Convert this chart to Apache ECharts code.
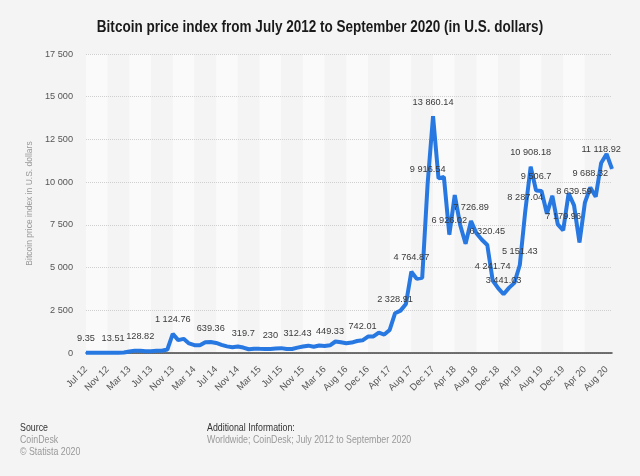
<!DOCTYPE html>
<html>
<head>
<meta charset="utf-8">
<script src="https://cdn.jsdelivr.net/npm/echarts@6/dist/echarts.min.js"></script>
<style>
html,body{margin:0;padding:0;background:#f4f4f4;}
#chart{width:640px;height:476px;}
</style>
</head>
<body>
<div id="chart"></div>
<script>
// Months (one month of 2016 is absent in the source data)
const categories = [
  'Jul 12','Aug 12','Sep 12','Oct 12','Nov 12','Dec 12',
  'Jan 13','Feb 13','Mar 13','Apr 13','May 13','Jun 13','Jul 13','Aug 13','Sep 13','Oct 13','Nov 13','Dec 13',
  'Jan 14','Feb 14','Mar 14','Apr 14','May 14','Jun 14','Jul 14','Aug 14','Sep 14','Oct 14','Nov 14','Dec 14',
  'Jan 15','Feb 15','Mar 15','Apr 15','May 15','Jun 15','Jul 15','Aug 15','Sep 15','Oct 15','Nov 15','Dec 15',
  'Jan 16','Feb 16','Mar 16','Apr 16','Jun 16','Jul 16','Aug 16','Sep 16','Oct 16','Nov 16','Dec 16',
  'Jan 17','Feb 17','Mar 17','Apr 17','May 17','Jun 17','Jul 17','Aug 17','Sep 17','Oct 17','Nov 17','Dec 17',
  'Jan 18','Feb 18','Mar 18','Apr 18','May 18','Jun 18','Jul 18','Aug 18','Sep 18','Oct 18','Nov 18','Dec 18',
  'Jan 19','Feb 19','Mar 19','Apr 19','May 19','Jun 19','Jul 19','Aug 19','Sep 19','Oct 19','Nov 19','Dec 19',
  'Jan 20','Feb 20','Mar 20','Apr 20','May 20','Jun 20','Jul 20','Aug 20','Sep 20'
];
const prices = [
  9.35, 10.2, 12.4, 11.2, 12.6, 13.51,
  20.4, 33.4, 93, 139, 128.82, 97, 106, 135, 133, 204, 1124.76, 754,
  829, 560, 458, 448, 628, 639.36, 587, 478, 388, 338, 378, 319.7,
  218, 254, 244, 236, 230, 263, 285, 230, 236, 312.43, 377, 430,
  369, 437, 416, 449.33, 673, 624, 575, 609, 700, 742.01, 963,
  968, 1190, 1080, 1347, 2328.91, 2480, 2875, 4764.87, 4338, 4400, 9916.54, 13860.14,
  10221, 10300, 6926.02, 9240, 7494, 6391, 7726.89, 7011, 6626, 6320.45, 4241.74, 3800,
  3441.03, 3813, 4105, 5151.43, 8287.04, 10908.18, 9506.7, 9480, 8150, 9199, 7530, 7179.96,
  9350, 8639.59, 6470, 8800, 9688.32, 9150, 11118.92, 11650, 10780
];
// indices of points that carry a value label
const labeledPoints = [0, 5, 10, 16, 23, 29, 34, 39, 45, 51, 57, 60, 63, 64, 67, 71, 74, 75, 77, 80, 81, 82, 83, 88, 90, 93, 95];
const yTicks = { min: 0, max: 17500, interval: 2500 };

const titleText = 'Bitcoin price index from July 2012 to September 2020 (in U.S. dollars)';
const yAxisName = 'Bitcoin price index in U.S. dollars';
const footerLeft = ['Source', 'CoinDesk', '\u00a9 Statista 2020'];
const footerRight = ['Additional Information:', 'Worldwide; CoinDesk; July 2012 to September 2020'];

function fmt(v) {
  const s = String(v);
  const parts = s.split('.');
  return parts[0].replace(/\B(?=(\d{3})+(?!\d))/g, ' ') + (parts[1] ? '.' + parts[1] : '');
}

const labelOffsets = { 0: [5, 0], 95: [-9, 0] };

const seriesData = prices.map((v, i) => {
  if (labeledPoints.indexOf(i) >= 0) {
    return { value: v, label: { show: true, offset: labelOffsets[i] || [1, 0] } };
  }
  return v;
});

const FONT = '"Liberation Sans", Arial, Helvetica, sans-serif';

function footerText(x, y, text, fill) {
  return {
    type: 'text', x: x, y: y, scaleX: 0.84, scaleY: 1,
    style: { text: text, fontSize: 10.5, fill: fill, fontFamily: FONT, textAlign: 'left', textVerticalAlign: 'top' }
  };
}

const chart = echarts.init(document.getElementById('chart'), null, { renderer: 'canvas' });
chart.setOption({
  animation: false,
  backgroundColor: '#f4f4f4',
  textStyle: { fontFamily: FONT },
  grid: { left: 86, right: 28, top: 54, bottom: 123, containLabel: false },
  xAxis: [{
    type: 'category',
    data: categories,
    boundaryGap: false,
    z: 0,
    axisLine: { show: false },
    axisTick: { show: false },
    axisLabel: { show: false },
    splitLine: { show: false },
    splitArea: { show: true, interval: 3, areaStyle: { color: ['#fafafa', '#f4f4f4'] } }
  }, {
    type: 'category',
    data: categories,
    boundaryGap: false,
    position: 'bottom',
    z: 3,
    axisLine: { show: true, lineStyle: { color: '#444', width: 1.5 } },
    axisTick: { show: false },
    axisLabel: { interval: 3, rotate: 45, fontSize: 9.5, color: '#555', margin: 15, fontFamily: FONT },
    splitLine: { show: false },
    splitArea: { show: false }
  }],
  yAxis: {
    type: 'value',
    z: 1,
    min: yTicks.min, max: yTicks.max, interval: yTicks.interval,
    name: yAxisName,
    nameLocation: 'middle', nameGap: 47,
    nameTextStyle: { fontSize: 8.5, color: '#999', fontFamily: FONT },
    axisLine: { show: false },
    axisTick: { show: false },
    axisLabel: { fontSize: 9.2, color: '#555', margin: 13, formatter: v => fmt(v), fontFamily: FONT },
    splitLine: { show: true, lineStyle: { color: '#cfcfcf', type: 'dotted', width: 1 } }
  },
  series: [{
    type: 'line',
    xAxisIndex: 0,
    data: seriesData,
    showSymbol: true,
    symbol: 'circle',
    symbolSize: 1,
    itemStyle: { color: '#2878e2' },
    lineStyle: { color: '#2878e2', width: 4 },
    label: { show: false, position: 'top', distance: 9, fontSize: 9.2, color: '#3a3a3a', fontFamily: FONT, formatter: p => fmt(p.value) },
    labelLayout: { hideOverlap: false },
    z: 4
  }],
  graphic: [
    {
      type: 'text', x: 320, y: 20, scaleX: 0.845, scaleY: 1,
      style: { text: titleText, fontSize: 16, fontWeight: 'bold', fill: '#1a1a1a', fontFamily: FONT, textAlign: 'center', textVerticalAlign: 'top' }
    },
    footerText(20, 423, footerLeft[0], '#333'),
    footerText(20, 435, footerLeft[1], '#999'),
    footerText(20, 447, footerLeft[2], '#999'),
    footerText(207, 423, footerRight[0], '#333'),
    footerText(207, 435, footerRight[1], '#999')
  ]
});
</script>
</body>
</html>
